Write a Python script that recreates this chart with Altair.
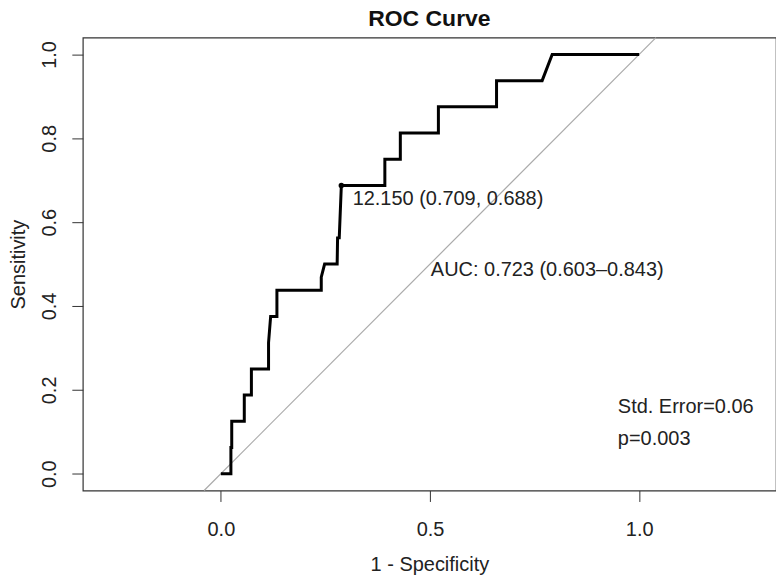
import altair as alt
import pandas as pd

# ROC curve coordinates (1 - specificity, sensitivity)
fpr = [0.0, 0.024, 0.024, 0.026, 0.026, 0.056, 0.056, 0.073, 0.073, 0.114, 0.114,
       0.119, 0.134, 0.134, 0.240, 0.240, 0.248, 0.278, 0.279, 0.283, 0.288,
       0.392, 0.392, 0.429, 0.429, 0.520, 0.520, 0.659, 0.659, 0.768, 0.792, 1.0]
tpr = [0.0, 0.0, 0.0625, 0.0625, 0.125, 0.125, 0.1875, 0.1875, 0.25, 0.25, 0.3125,
       0.375, 0.375, 0.4375, 0.4375, 0.46875, 0.5, 0.5, 0.5625, 0.5625, 0.6875,
       0.6875, 0.75, 0.75, 0.8125, 0.8125, 0.875, 0.875, 0.9375, 0.9375, 1.0, 1.0]

# reference diagonal
diag_x = [-0.04, 1.04]
diag_y = [-0.04, 1.04]

# best threshold point
thr_x = [0.288]
thr_y = [0.6875]

# annotations
ann_text = ["12.150 (0.709, 0.688)", "AUC: 0.723 (0.603\u20130.843)", "Std. Error=0.06", "p=0.003"]
ann_x = [0.315, 0.502, 0.949, 0.949]
ann_y = [0.655, 0.485, 0.1595, 0.083]

title_text = ["ROC Curve"]

x_ticks = [0.0, 0.5, 1.0]
y_ticks = [0.0, 0.2, 0.4, 0.6, 0.8, 1.0]

FONT = "Liberation Sans"
W, H = 695, 454

roc = pd.DataFrame({"x": fpr, "y": tpr, "i": list(range(len(fpr)))})
diag = pd.DataFrame({"x": diag_x, "y": diag_y})
pt = pd.DataFrame({"x": thr_x, "y": thr_y})
ann = pd.DataFrame({"t": ann_text, "x": ann_x, "y": ann_y})
ttl = pd.DataFrame({"t": title_text})

xs = alt.Scale(domain=[-0.33, 1.327], nice=False, zero=False)
ys = alt.Scale(domain=[-0.04, 1.04], nice=False, zero=False)

xax = alt.Axis(values=x_ticks, format=".1f", grid=False, domain=False,
               tickSize=11, tickColor="#333", labelFontSize=20, labelFont=FONT,
               labelColor="#222", labelPadding=18, title="1 - Specificity",
               titleFontSize=20, titleFont=FONT, titleFontWeight="normal",
               titleColor="#222", titleX=W / 2, titleY=74, titleBaseline="middle")
yax = alt.Axis(values=y_ticks, format=".1f", grid=False, domain=False,
               tickSize=11, tickColor="#333", labelFontSize=20, labelFont=FONT,
               labelColor="#222", labelAngle=-90, labelAlign="center",
               labelBaseline="alphabetic", labelPadding=16,
               title="Sensitivity", titleFontSize=20, titleFont=FONT,
               titleFontWeight="normal", titleColor="#222", titleAngle=-90,
               titleX=-58, titleY=H / 2, titleBaseline="alphabetic", titleAlign="center")

diag_layer = alt.Chart(diag).mark_line(color="#aaaaaa", strokeWidth=1.2).encode(
    x=alt.X("x:Q", scale=xs, axis=xax),
    y=alt.Y("y:Q", scale=ys, axis=yax),
)
roc_layer = alt.Chart(roc).mark_line(color="black", strokeWidth=3, strokeJoin="miter").encode(
    x=alt.X("x:Q", scale=xs),
    y=alt.Y("y:Q", scale=ys),
    order="i:Q",
)
pt_layer = alt.Chart(pt).mark_circle(color="black", size=30, opacity=1).encode(
    x=alt.X("x:Q", scale=xs),
    y=alt.Y("y:Q", scale=ys),
)
text_layer = alt.Chart(ann).mark_text(align="left", baseline="middle", fontSize=20,
                                      font=FONT, color="#222").encode(
    x=alt.X("x:Q", scale=xs),
    y=alt.Y("y:Q", scale=ys),
    text="t:N",
)
title_layer = alt.Chart(ttl).mark_text(align="center", baseline="alphabetic", fontSize=23,
                                       fontWeight="bold", font=FONT, color="#111").encode(
    x=alt.value(W / 2),
    y=alt.value(-12),
    text="t:N",
)

chart = alt.layer(diag_layer, roc_layer, pt_layer, text_layer, title_layer).properties(
    width=W, height=H,
    autosize=alt.AutoSizeParams(type="none"),
    padding={"left": 75, "top": 29, "right": 0, "bottom": 88},
    background="white",
).configure_view(stroke="#333", strokeWidth=1.2)

chart.save("out.html", embed_options={"renderer": "svg", "actions": False})
